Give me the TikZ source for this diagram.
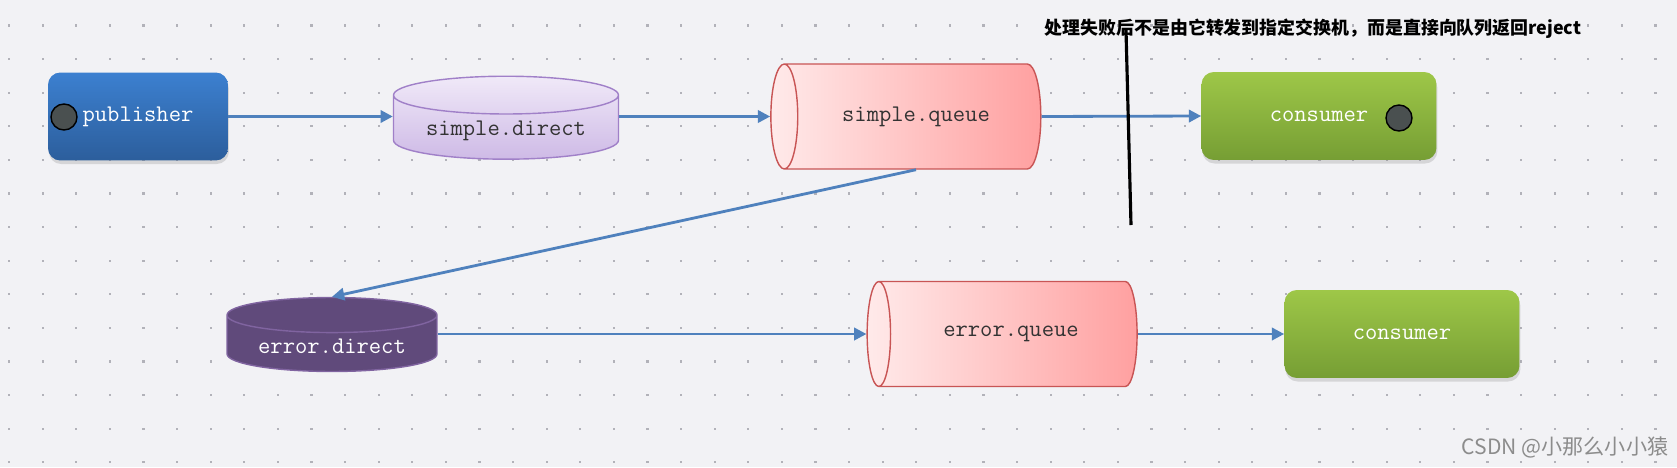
\documentclass[tikz,border=0pt]{standalone}
\usepackage{fontspec}
\usepackage{xcolor}
\usepackage{tikz}
\usetikzlibrary{shapes.geometric,arrows.meta,shadows}
\newfontfamily\cjkfont{Noto Sans CJK SC}
\definecolor{bgcol}{RGB}{242,242,245}
\definecolor{dotcol}{RGB}{178,178,185}
\definecolor{arrowblue}{RGB}{79,129,189}
\definecolor{pubtop}{RGB}{60,128,208}
\definecolor{pubbot}{RGB}{44,94,156}
\definecolor{constop}{RGB}{158,199,72}
\definecolor{consbot}{RGB}{118,158,52}
\definecolor{dirtop}{RGB}{240,233,248}
\definecolor{dirbot}{RGB}{206,186,230}
\definecolor{dirline}{RGB}{160,128,200}
\definecolor{queleft}{RGB}{255,234,234}
\definecolor{queright}{RGB}{255,160,160}
\definecolor{queline}{RGB}{200,85,85}
\definecolor{errdir}{RGB}{96,74,123}
\definecolor{errline}{RGB}{128,100,160}
\definecolor{knob}{RGB}{74,80,80}

\begin{document}
\begin{tikzpicture}[x=0.02cm,y=-0.02cm,
    txtfont/.style={font=\ttfamily\fontsize{13.6}{15}\selectfont},
    roundbox/.style={rectangle,rounded corners=7pt,minimum height=1.76cm,txtfont,text=white,
        drop shadow={opacity=0.25,shadow xshift=0.5pt,shadow yshift=-2pt}},
    pubbox/.style={roundbox,minimum width=3.6cm,top color=pubtop,bottom color=pubbot},
    consbox/.style={roundbox,minimum width=4.7cm,top color=constop,bottom color=consbot},
    knobdot/.style={circle,draw=black,line width=0.8pt,fill=knob,minimum size=0.52cm,inner sep=0pt},
    exchange/.style={cylinder,shape border rotate=90,aspect=0.22,minimum width=4.5cm,
        minimum height=1.42cm,line width=0.8pt,txtfont},
    queue/.style={cylinder,shape border rotate=180,aspect=0.85,minimum height=5.4cm,
        minimum width=2.1cm,draw=queline,line width=0.8pt,left color=queleft,right color=queright,
        txtfont,text=black!80},
    flow/.style={draw=arrowblue,line width=1.6pt,-{Triangle[length=7pt,width=7pt]}}
    ]
    \fill[bgcol] (0,0) rectangle (1677,467);
    \useasboundingbox (0,0) rectangle (1677,467);
    % dotted grid
    \foreach \i in {0,...,49}{
        \foreach \j in {0,...,13}{
            \fill[dotcol] (8+33.6*\i,24.4+33.6*\j) rectangle ++(2.2,2.2);
        }
    }
    % first row
    \node[pubbox] (pub) at (138,116.5) {publisher};
    \node[knobdot] (pubknob) at (64,117) {};
    \node[exchange,top color=dirtop,bottom color=dirbot,draw=dirline,text=black!80] (sdir) at (506,130.5) {simple.direct};
    \node[queue] (sque) at (916,116.5) {simple.queue};
    \node[consbox] (cons) at (1319,116) {consumer};
    \node[knobdot] (consknob) at (1399,118) {};
    % second row
    \node[exchange,minimum width=4.2cm,fill=errdir,draw=errline,text=white] (edir) at (332,346.5) {error.direct};
    \node[queue] (eque) at (1011,334) {error.queue};
    \node[consbox] (econs) at (1402,334) {consumer};
    % connectors
    \draw[flow] (pub.east) -- (pub.east -| sdir.west);
    \draw[flow] (sque.west -| sdir.east) -- (sque.west);
    \draw[flow] (sque.east) -- (cons.west);
    \draw[flow] (sque.south) -- (edir.north);
    \draw[flow] (eque.west -| edir.east) -- (eque.west);
    \draw[flow] (eque.east) -- (econs.west);
    % note
    \node[font=\cjkfont\bfseries\fontsize{10.2}{12}\selectfont] (note) at (1313,29) {处理失败后不是由它转发到指定交换机，而是直接向队列返回reject};
    \coordinate (marktop) at (1126,30);
    \coordinate (markbot) at (1131,225);
    \draw[line width=1.8pt] (marktop) -- (markbot);
    \node[font=\cjkfont\fontsize{12}{14}\selectfont,text=black!45] (credit) at (1565,447) {CSDN @小那么小小猿};
\end{tikzpicture}
\end{document}
